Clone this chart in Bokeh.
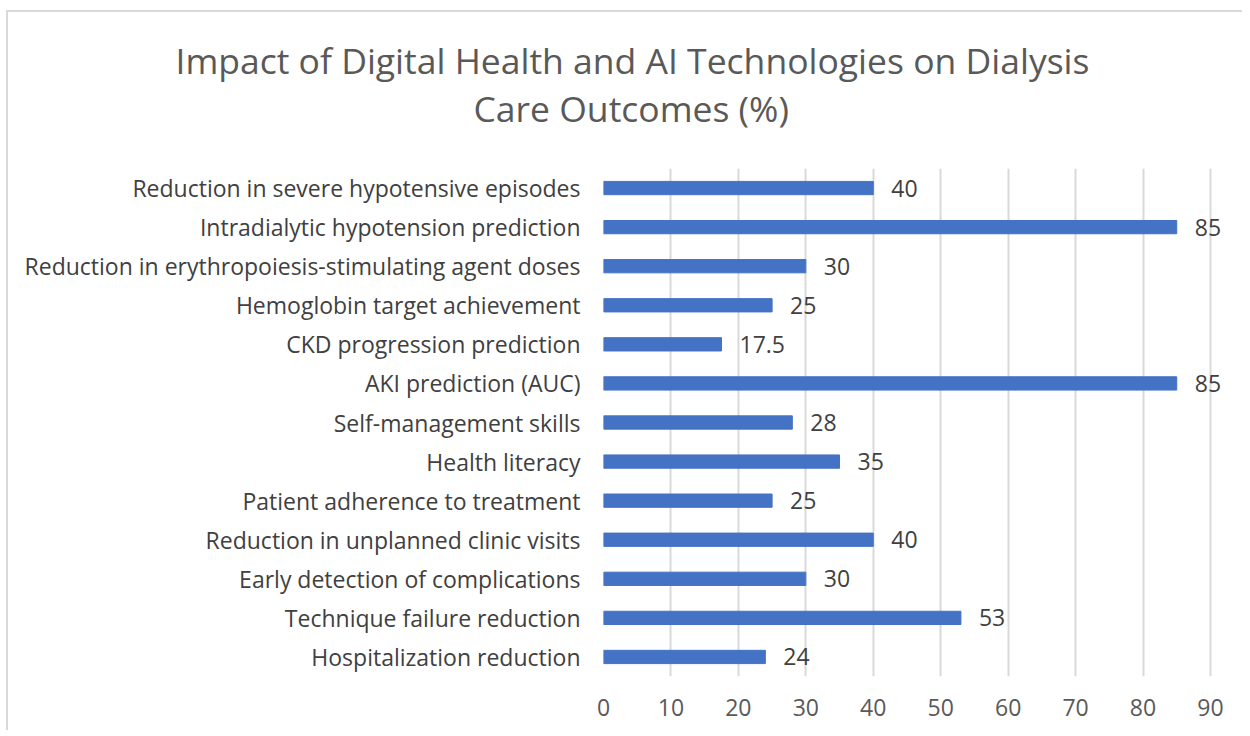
from bokeh.plotting import figure
from bokeh.models import ColumnDataSource, LabelSet, Title, FixedTicker, Range1d
from bokeh.core.properties import value
from bokeh.embed import file_html
from bokeh.resources import INLINE

categories = [
    "Hospitalization reduction",
    "Technique failure reduction",
    "Early detection of complications",
    "Reduction in unplanned clinic visits",
    "Patient adherence to treatment",
    "Health literacy",
    "Self-management skills",
    "AKI prediction (AUC)",
    "CKD progression prediction",
    "Hemoglobin target achievement",
    "Reduction in erythropoiesis-stimulating agent doses",
    "Intradialytic hypotension prediction",
    "Reduction in severe hypotensive episodes",
]
values = [24, 53, 30, 40, 25, 35, 28, 85, 17.5, 25, 30, 85, 40]
value_labels = ["24", "53", "30", "40", "25", "35", "28", "85", "17.5", "25", "30", "85", "40"]
x_ticks = [0, 10, 20, 30, 40, 50, 60, 70, 80, 90]
title_lines = ["Impact of Digital Health and AI Technologies on Dialysis", "Care Outcomes (%)"]

FONT = "Open Sans"
FS = "23px"

src = ColumnDataSource(dict(cat=categories, val=values, lab=value_labels))

p = figure(
    y_range=categories,
    x_range=Range1d(0, 94.9),
    width=1236, height=720,
    output_backend="svg", toolbar_location=None,
    min_border_left=595, min_border_right=1,
    min_border_top=156, min_border_bottom=56,
)
p.outline_line_color = None
p.background_fill_color = "white"
p.border_fill_color = "white"

p.hbar(y="cat", right="val", left=0, height=0.34, source=src,
       fill_color="#4472C4", line_color="#4472C4")

labels = LabelSet(x="val", y="cat", text="lab", source=src, x_offset=18,
                  text_baseline="middle", text_font_size=FS,
                  text_color="#404040", text_font=value(FONT))
p.add_layout(labels)

# grid
p.ygrid.grid_line_color = None
p.xgrid.grid_line_color = "#d9d9d9"
p.xgrid.grid_line_width = 2
p.xgrid.ticker = FixedTicker(ticks=x_ticks)

# x axis
p.xaxis.ticker = FixedTicker(ticks=x_ticks)
p.xaxis.axis_line_color = None
p.xaxis.major_tick_line_color = None
p.xaxis.minor_tick_line_color = None
p.xaxis.major_label_text_font_size = FS
p.xaxis.major_label_text_color = "#595959"
p.xaxis.major_label_text_font = FONT
p.xaxis.major_label_standoff = 16

# y axis
p.yaxis.axis_line_color = None
p.yaxis.major_tick_line_color = None
p.yaxis.minor_tick_line_color = None
p.yaxis.major_label_text_font_size = FS
p.yaxis.major_label_text_color = "#404040"
p.yaxis.major_label_text_font = FONT
p.yaxis.major_label_standoff = 17

# titles (closest to frame first)
p.add_layout(Title(text=" ", text_font_size="10px", standoff=24), "above")
p.add_layout(Title(text=title_lines[1], align="left", offset=-130, vertical_align="middle",
                   text_font_size="35.5px", text_font_style="normal", text_color="#595959",
                   text_font=FONT, standoff=-2), "above")
p.add_layout(Title(text=title_lines[0], align="left", offset=-428, vertical_align="middle",
                   text_font_size="35.5px", text_font_style="normal", text_color="#595959",
                   text_font=FONT, standoff=-2), "above")

p.styles = {"border-top": "2px solid #d9d9d9", "border-left": "2px solid #d9d9d9",
            "margin-left": "6px", "margin-top": "10px"}

open("out.html", "w").write(file_html(p, INLINE))
